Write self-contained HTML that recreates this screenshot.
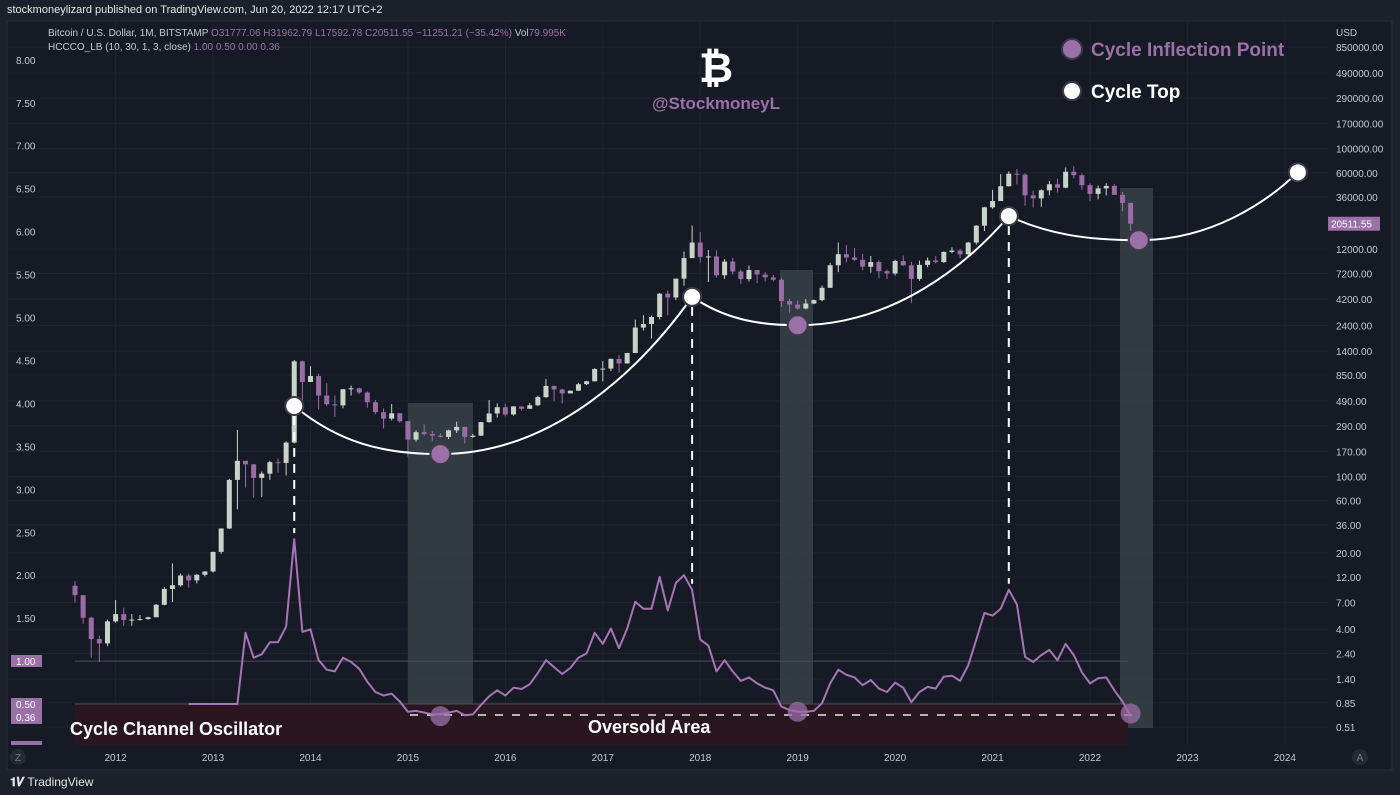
<!DOCTYPE html>
<html><head><meta charset="utf-8"><style>
html,body{margin:0;padding:0;background:#1c202b;width:1400px;height:795px;overflow:hidden}
svg{display:block;font-family:"Liberation Sans",sans-serif}
</style></head><body>
<svg id="chart" width="1400" height="795" viewBox="0 0 1400 795" xmlns="http://www.w3.org/2000/svg">
<rect x="0" y="0" width="1400" height="795" fill="#1c202b"/>
<text x="7" y="13" fill="#e6e6e6" font-size="11">stockmoneylizard published on TradingView.com, Jun 20, 2022 12:17 UTC+2</text>
<rect x="7" y="21" width="1385" height="749" fill="#161a25" stroke="#2a2e39"/>
<g id="grid"></g>
<g id="shades"></g>
<rect x="75" y="704" width="1053" height="41" fill="#2a1620"/>
<g id="hlines"></g>
<g id="candles"></g>
<g id="osc"></g>
<g id="overlay"></g>
<g id="laxis"></g>
<g id="raxis"></g>
<g id="xaxis"></g>
<text x="48" y="36" fill="#c8c8d0" font-size="10">Bitcoin / U.S. Dollar, 1M, BITSTAMP  <tspan fill="#9b6fa8">O31777.06  H31962.79  L17592.78  C20511.55  −11251.21 (−35.42%)</tspan>  Vol<tspan fill="#9b6fa8">79.995K</tspan></text>
<text x="48" y="50" fill="#c8c8d0" font-size="10">HCCCO_LB (10, 30, 1, 3, close)  <tspan fill="#9b6fa8">1.00  0.50  0.00  0.36</tspan></text>
<text x="716" y="82" text-anchor="middle" fill="#ffffff" font-size="42" font-weight="bold">₿</text>
<text x="716" y="109" text-anchor="middle" fill="#9b6fa8" font-size="17" font-weight="bold">@StockmoneyL</text>
<circle cx="1072" cy="49" r="10" fill="#9b6fa8" stroke="#3a3a48" stroke-width="2"/>
<text x="1091" y="56" fill="#9b6fa8" font-size="19" font-weight="bold">Cycle Inflection Point</text>
<circle cx="1072" cy="91" r="9" fill="#ffffff" stroke="#3a3a48" stroke-width="2"/>
<text x="1091" y="98" fill="#ffffff" font-size="19" font-weight="bold">Cycle Top</text>
<text x="70" y="735" fill="#ffffff" font-size="18" font-weight="bold">Cycle Channel Oscillator</text>
<text x="588" y="733" fill="#ffffff" font-size="18" font-weight="bold">Oversold Area</text>
<circle cx="18" cy="757" r="8" fill="#262a35"/>
<text x="18" y="761" text-anchor="middle" fill="#777" font-size="10">Z</text>
<circle cx="1360" cy="757" r="8" fill="#262a35"/>
<text x="1360" y="761" text-anchor="middle" fill="#777" font-size="10">A</text>
<text x="10" y="786" fill="#e6e6e6" font-size="12"><tspan font-weight="bold">𝟏𝑽</tspan> TradingView</text>
</svg>
<script>
const closes=[8.2,5.1,3.25,2.97,4.72,
5.5,4.86,4.9,4.95,5.15,6.7,9.35,10.1,12.4,11.2,12.6,13.5,
20.4,33.4,93,139,129,97,106,135,133,204,1130,732,
829,550,457,447,628,640,586,478,387,338,378,320,
217,254,244,236,230,264,284,230,236,314,377,430,
369,437,416,448,531,673,624,575,609,698,742,963,
970,1190,1080,1348,2300,2480,2875,4700,4340,6450,9950,13800,
10200,10300,6930,9240,7500,6390,7730,7030,6625,6300,4020,3740,
3440,3820,4100,5320,8550,10800,10080,9590,8290,9150,7560,7190,
9350,8540,6420,8620,9450,9140,11330,11650,10780,13800,19700,28990,
33100,45200,58800,57700,37300,35000,41500,47100,43800,61300,57000,46200,
38500,43200,45500,37700,31800,20511.55];
const firstOpen=10;
const highs=[11,8,5.2,3.5,4.9,
7.4,6.3,5.5,5.4,5.2,6.8,9.7,16,12.9,12.9,12.8,13.6,
20.5,33.5,95,266,130,130,111,139,145,210,1163,1150,
1020,870,715,550,630,680,650,600,500,420,460,382,
320,265,300,260,248,268,317,285,245,316,500,466,
463,440,424,470,546,780,681,636,610,720,750,975,
1135,1200,1290,1350,2720,2990,2970,4760,5010,6470,11400,19700,
17200,11800,11700,9760,10000,7800,8500,7760,7400,7000,6570,4220,
4080,4200,4150,5600,9000,13800,13100,12300,10900,10400,9500,7780,
9600,10500,9200,9450,10070,10400,11450,12470,12070,14000,19900,29300,
41900,58300,61800,64900,59600,41300,42400,50500,52900,67000,69000,59100,
47950,45800,48100,47400,40000,31960];
const lows=[7,4.5,2.2,2.0,2.8,
4.6,4.3,4.3,4.8,4.9,5.2,6.6,7.1,9.8,9.6,10.5,12.2,
13.2,19.6,33,50,79,64,65,93,108,102,200,480,
735,410,440,350,420,550,565,425,370,275,325,310,
152,208,236,210,227,220,250,200,226,235,310,345,
355,360,400,415,442,525,485,465,590,604,685,740,
740,920,890,1080,1370,2160,1830,2730,2980,4100,5550,10800,
9000,6000,6600,6430,7040,5780,6070,5880,6100,6100,3550,3120,
3350,3380,3770,4020,5300,7400,9100,9330,7700,7300,6500,6400,
6900,8430,3850,6160,8200,8900,8980,11000,9900,10400,13200,17600,
28200,33400,45000,47100,30000,28800,29300,37300,39600,43300,53300,42000,
33000,34300,37200,37600,26700,17592];
const oscStart=14;
const oscValues=[0.5,0.5,0.5,0.5,0.5,0.5,0.5,1.33,1.04,1.08,1.22,1.22,1.40,2.42,1.34,1.37,1.01,0.90,0.88,1.04,0.99,0.91,0.76,0.64,0.60,0.62,0.53,0.41,0.42,0.40,0.38,0.38,0.40,0.42,0.37,0.38,0.49,0.59,0.66,0.60,0.69,0.675,0.73,0.86,1.01,0.93,0.85,0.92,1.04,1.09,1.33,1.20,1.38,1.15,1.38,1.69,1.61,1.61,1.98,1.59,1.91,2.00,1.83,1.25,1.18,0.88,1.01,0.88,0.77,0.81,0.74,0.69,0.66,0.47,0.43,0.41,0.41,0.42,0.51,0.74,0.90,0.84,0.81,0.72,0.78,0.68,0.64,0.75,0.69,0.52,0.64,0.70,0.68,0.82,0.83,0.77,0.95,1.25,1.56,1.53,1.61,1.83,1.66,1.05,0.99,1.07,1.13,1.01,1.20,1.07,0.87,0.74,0.80,0.81,0.66,0.53,0.36];
const priceTicks=[850000,490000,290000,170000,100000,60000,36000,12000,7200,4200,2400,1400,850,490,290,170,100,60,36,20,12,7,4,2.4,1.4,0.85,0.51];
const oscTicks=[8,7.5,7,6.5,6,5.5,5,4.5,4,3.5,3,2.5,2,1.5];
const years=[2012,2013,2014,2015,2016,2017,2018,2019,2020,2021,2022,2023,2024];
const cycleTops=[[27,3.97],[76,5.24],[115,6.18],[150.6,6.69]];
const inflections=[[45,3.41],[89,4.91],[131,5.9]];
const oscInflections=[[45,0.36],[89,0.41],[130,0.39]];

const NS='http://www.w3.org/2000/svg';
const X=i=>75+i*8.12;
const PY=p=>47+(5.929-Math.log10(p))*109.3;
const OY=v=>747-v*85.9;
const YX=y=>75+((y-2011)*12-7)*8.12;
function mk(tag,attrs,parent){const e=document.createElementNS(NS,tag);for(const k in attrs)e.setAttribute(k,attrs[k]);document.getElementById(parent).appendChild(e);return e;}

priceTicks.forEach(p=>{const l=mk('line',{x1:8,x2:1328,y1:PY(p),y2:PY(p),stroke:'#1f2330',"stroke-width":1},'grid');

});
years.forEach(y=>{const l=mk('line',{x1:YX(y),x2:YX(y),y1:22,y2:745,stroke:'#1f2330'},'grid');

});

[[408,403,65,322],[780,270,33,457],[1120,188,33,540]].forEach(r=>{const e=mk('rect',{x:r[0],y:r[1],width:r[2],height:r[3],fill:'#3a4448',opacity:0.8},'shades');

});

[1,0.5].forEach(v=>{const l=mk('line',{x1:75,x2:1128,y1:OY(v),y2:OY(v),stroke:'#4a4e5a'},'hlines');

});
const dl=mk('line',{x1:410,x2:1132,y1:715,y2:715,stroke:'#e8e8e8',"stroke-width":1.5,"stroke-dasharray":"8,9"},'hlines');



closes.forEach((c,i)=>{const o=i?closes[i-1]:firstOpen;const up=c>=o;const col=up?'#c9d4c9':'#9b6ba8';const x=X(i);
const w=mk('line',{x1:x,x2:x,y1:PY(highs[i]),y2:PY(lows[i]),stroke:col,"stroke-width":1},'candles');


const t=Math.min(PY(o),PY(c)),b=Math.max(PY(o),PY(c));
const r=mk('rect',{x:x-2.5,y:t,width:5,height:Math.max(1,b-t),fill:col},'candles');

});

const pts=oscValues.map((v,k)=>X(oscStart+k).toFixed(1)+','+OY(v).toFixed(1)).join(' ');
const pl=mk('polyline',{points:pts,fill:'none',stroke:'#a774b5',"stroke-width":2,"stroke-linejoin":"round"},'osc');



function curve(a,m,b){const ax=X(a[0]),ay=OY(a[1]),mx=X(m[0]),my=OY(m[1]),bx=X(b[0]),by=OY(b[1]);
return `M${ax},${ay} C${ax+(mx-ax)*0.3},${ay+(my-ay)*0.75} ${mx-(mx-ax)*0.4},${my} ${mx},${my} C${mx+(bx-mx)*0.45},${my} ${bx-(bx-mx)*0.2},${by+(my-by)*0.45} ${bx},${by}`;}
for(let k=0;k<3;k++){const p=mk('path',{d:curve(cycleTops[k],inflections[k],cycleTops[k+1]),fill:'none',stroke:'#ffffff',"stroke-width":2},'overlay');

}
const peaks=[27,76,115];
cycleTops.slice(0,3).forEach((t,k)=>{const i=peaks[k];const x=X(t[0]);
const l=mk('line',{x1:x,x2:x,y1:OY(t[1])+10,y2:OY(oscValues[i-oscStart])-6,stroke:'#ffffff',"stroke-width":2,"stroke-dasharray":"9,7"},'overlay');

});
inflections.forEach(p=>{const c=mk('circle',{cx:X(p[0]),cy:OY(p[1]),r:10,fill:'#9b6fa8',stroke:'#3a3a48',"stroke-width":2},'overlay');

});
oscInflections.forEach(p=>{const c=mk('circle',{cx:X(p[0]),cy:OY(p[1]),r:10,fill:'#9b6fa8',opacity:0.75},'overlay');

});
cycleTops.forEach(p=>{const c=mk('circle',{cx:X(p[0]),cy:OY(p[1]),r:9,fill:'#ffffff',stroke:'#3a3a48',"stroke-width":2},'overlay');

});

oscTicks.forEach(v=>{const t=mk('text',{x:16,y:OY(v)+4,fill:'#c8c8d0',"font-size":10},'laxis');t.textContent=v.toFixed(2);

});
[[655,12],[698,26]].forEach(b=>{const r=mk('rect',{x:11,y:b[0],width:31,height:b[1],fill:'#9b6fa8'},'laxis');

});
const r0=mk('rect',{x:11,y:741,width:31,height:4,fill:'#9b6fa8'},'laxis');


[[665,'1.00'],[708,'0.50'],[721,'0.36']].forEach(b=>{const t=mk('text',{x:16,y:b[0],fill:'#ffffff',"font-size":10},'laxis');t.textContent=b[1];

});

const u=mk('text',{x:1336,y:36,fill:'#c8c8d0',"font-size":10},'raxis');u.textContent='USD';


priceTicks.forEach(p=>{const t=mk('text',{x:1336,y:PY(p)+4,fill:'#c8c8d0',"font-size":10},'raxis');t.textContent=p.toFixed(2);

});
const last=closes[closes.length-1];
const br=mk('rect',{x:1328,y:PY(last)-7,width:52,height:14,fill:'#9b6fa8'},'raxis');


const bt=mk('text',{x:1331,y:PY(last)+4,fill:'#ffffff',"font-size":10},'raxis');bt.textContent=last.toFixed(2);



years.forEach(y=>{const t=mk('text',{x:YX(y),y:761,fill:'#c8c8d0',"font-size":10,"text-anchor":"middle"},'xaxis');t.textContent=y;

});
</script>
</body></html>
